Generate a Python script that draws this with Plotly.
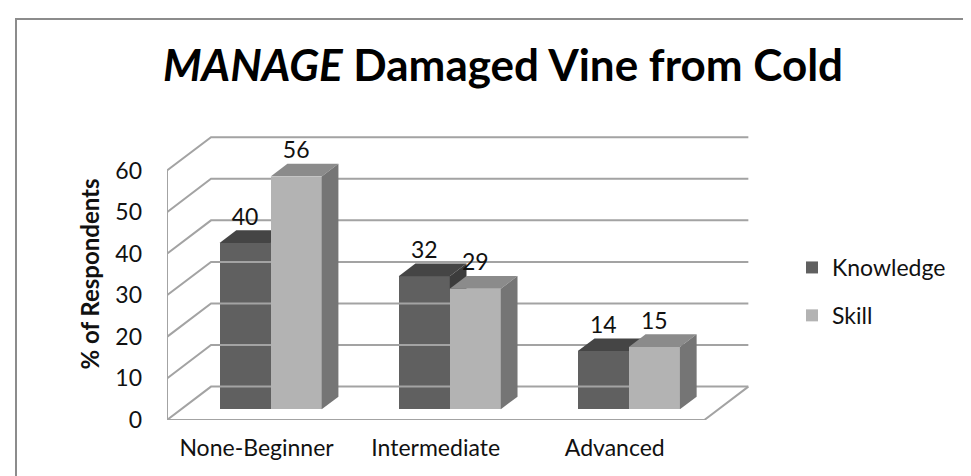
import numpy as np
import plotly.graph_objects as go

# ---- data ----
categories = ["None-Beginner", "Intermediate", "Advanced"]
knowledge = [40, 32, 14]
skill = [56, 29, 15]
series_names = ["Knowledge", "Skill"]
y_ticks = [0, 10, 20, 30, 40, 50, 60]
title_text = "<i>MANAGE</i> Damaged Vine from Cold"
y_title = "% of Respondents"

# ---- styling / pseudo-3D geometry (axis units) ----
FONT = "Lato"
WALL_DX, WALL_DY = 0.2457, 8.03      # depth vector of the walls (x units, y units)
BAR_D1, BAR_D2 = 0.32, 0.70          # front / back depth fraction of the bars
BAR_W = 0.285
X_RANGE = [-0.5, 2.794]
Y_RANGE = [0, 70.24]
LINE_C = "#a3a3a3"
K_FRONT, K_TOP, K_SIDE = "#606060", "#454545", "#3c3c3c"
S_FRONT, S_TOP, S_SIDE = "#b3b3b3", "#8b8b8b", "#757575"

idx = np.arange(len(categories), dtype=float)
ymax = max(y_ticks)
d1x, d1y = BAR_D1 * WALL_DX, BAR_D1 * WALL_DY
bdx, bdy = (BAR_D2 - BAR_D1) * WALL_DX, (BAR_D2 - BAR_D1) * WALL_DY

fig = go.Figure()

# ---- walls and floor (base axes, behind everything) ----
lx, ly = [], []
left, right = X_RANGE[0], 2.5
for v in y_ticks:
    lx += [left, left + WALL_DX, right + WALL_DX, None]
    ly += [v, v + WALL_DY, v + WALL_DY, None]
lx += [left, left, None, left, right, right + WALL_DX, None]
ly += [0, ymax, None, 0, 0, WALL_DY, None]
fig.add_trace(go.Scatter(x=lx, y=ly, mode="lines", line=dict(color=LINE_C, width=2),
                         hoverinfo="skip", showlegend=False))


def faces(xl, val, other=None):
    """top and side polygons of a bar whose front-left corner is at xl"""
    base = d1y
    h = base + val
    xr = xl + BAR_W
    top = ([xl, xr, xr + bdx, xl + bdx, xl], [h, h, h + bdy, h + bdy, h])
    lo = base if other is None else min(h, base + other)
    side = ([xr, xr, xr + bdx, xr + bdx, xr], [lo, h, h + bdy, max(lo, base + bdy), lo])
    return top, side


# Knowledge fronts (base axes)
kx = idx - BAR_W / 2 + d1x
fig.add_trace(go.Bar(x=kx, y=knowledge, base=[d1y] * len(idx), width=BAR_W,
                     marker=dict(color=K_FRONT, line=dict(width=0)), name=series_names[0],
                     legendgroup="k", hoverinfo="skip"))
for i in range(len(idx)):
    top, side = faces(idx[i] - BAR_W + d1x, knowledge[i], other=skill[i])
    fig.add_trace(go.Scatter(x=top[0], y=top[1], fill="toself", fillcolor=K_TOP, mode="lines",
                             line=dict(width=0, color=K_TOP), hoverinfo="skip", showlegend=False))
    if knowledge[i] > skill[i]:
        fig.add_trace(go.Scatter(x=side[0], y=side[1], fill="toself", fillcolor=K_SIDE, mode="lines",
                                 line=dict(width=0, color=K_SIDE), hoverinfo="skip", showlegend=False))

# Skill fronts (overlay axes, above knowledge)
sx = idx + BAR_W / 2 + d1x
fig.add_trace(go.Bar(x=sx, y=skill, base=[d1y] * len(idx), width=BAR_W,
                     marker=dict(color=S_FRONT, line=dict(width=0)), name=series_names[1],
                     legendgroup="s", hoverinfo="skip", xaxis="x2", yaxis="y2"))
for i in range(len(idx)):
    top, side = faces(idx[i] + d1x, skill[i])
    fig.add_trace(go.Scatter(x=top[0], y=top[1], fill="toself", fillcolor=S_TOP, mode="lines",
                             line=dict(width=0, color=S_TOP), hoverinfo="skip", showlegend=False,
                             xaxis="x2", yaxis="y2"))
    fig.add_trace(go.Scatter(x=side[0], y=side[1], fill="toself", fillcolor=S_SIDE, mode="lines",
                             line=dict(width=0, color=S_SIDE), hoverinfo="skip", showlegend=False,
                             xaxis="x2", yaxis="y2"))

# data labels
lab_x = list(kx) + list(sx)
lab_y = [v + d1y + bdy for v in knowledge] + [v + d1y + bdy for v in skill]
lab_t = [str(v) for v in knowledge] + [str(v) for v in skill]
fig.add_trace(go.Scatter(x=lab_x, y=lab_y, text=lab_t, mode="text", textposition="top center",
                         textfont=dict(family=FONT, size=23, color="#111"), hoverinfo="skip",
                         showlegend=False, xaxis="x2", yaxis="y2", cliponaxis=False))

fig.update_layout(
    width=971, height=476,
    margin=dict(l=159, r=222, t=120, b=64, autoexpand=False),
    paper_bgcolor="white", plot_bgcolor="rgba(0,0,0,0)",
    font=dict(family=FONT, color="#111"),
    title=dict(text=title_text, x=495 / 971, xanchor="center", y=1 - 58 / 476, yanchor="middle",
               font=dict(family=FONT, size=44, color="#000", weight="bold")),
    xaxis=dict(range=X_RANGE, tickvals=list(idx), ticktext=categories, showgrid=False,
               zeroline=False, showline=False, ticks="", ticklabelstandoff=12, automargin=False,
               tickfont=dict(family=FONT, size=23, color="#111")),
    yaxis=dict(range=Y_RANGE, tickvals=y_ticks, showgrid=False, zeroline=False, showline=False,
               ticks="", ticklabelstandoff=24, automargin=False,
               tickfont=dict(family=FONT, size=23, color="#111"),
               title=dict(text=y_title, standoff=8,
                          font=dict(family=FONT, size=24, color="#111", weight="bold"))),
    xaxis2=dict(range=X_RANGE, overlaying="x", visible=False),
    yaxis2=dict(range=Y_RANGE, overlaying="y", visible=False),
    bargap=0,
    legend=dict(x=(784 - 159) / 590, y=(412 - 238) / 292, xanchor="left", yanchor="top",
                font=dict(family=FONT, size=23, color="#111"), tracegroupgap=15,
                bgcolor="rgba(0,0,0,0)"),
    shapes=[dict(type="rect", xref="paper", yref="paper",
                 x0=(8 - 159) / 590, x1=(990 - 159) / 590,
                 y0=(412 - 500) / 292, y1=(412 - 11) / 292,
                 line=dict(color="#8c8c8c", width=2), fillcolor="rgba(0,0,0,0)", layer="below")],
)

fig.write_html("out.html")
